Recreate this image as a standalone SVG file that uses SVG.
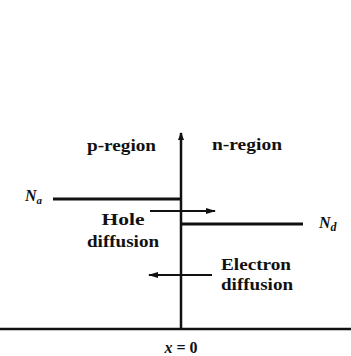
<svg xmlns="http://www.w3.org/2000/svg" width="351" height="356" viewBox="0 0 351 356">
<style>
.t{font-family:"Liberation Serif","Times New Roman",serif;font-weight:bold;font-size:16px;fill:#111}
.i{font-style:italic}
.ln{stroke:#111;fill:none}
</style>
<defs>
<marker id="ah" markerWidth="10" markerHeight="8" refX="9" refY="4" orient="auto" markerUnits="userSpaceOnUse">
<path d="M0,1 L10,4 L0,7 Z" fill="#111"/>
</marker>
<marker id="ax" markerWidth="8" markerHeight="10" refX="7" refY="4" orient="auto" markerUnits="userSpaceOnUse">
<path d="M0,1 L8,4 L0,7 Z" fill="#111"/>
</marker>
</defs>
<rect width="351" height="356" fill="#fff"/>
<g id="connectors">
<line id="baseline" class="ln" x1="0" y1="329" x2="351" y2="329" stroke-width="2.5"/>
<line id="axis" class="ln" x1="181" y1="329" x2="181" y2="133" stroke-width="2.5" marker-end="url(#ax)"/>
<line id="na-line" class="ln" x1="53" y1="199" x2="181" y2="199" stroke-width="3"/>
<line id="nd-line" class="ln" x1="181" y1="224" x2="303" y2="224" stroke-width="3"/>
<line id="hole-arrow" class="ln" x1="150" y1="211" x2="215" y2="211" stroke-width="2" marker-end="url(#ah)"/>
<line id="electron-arrow" class="ln" x1="212" y1="275" x2="149" y2="275" stroke-width="2" marker-end="url(#ah)"/>
</g>
<g id="p-region"><text class="t" x="87" y="151" textLength="69" lengthAdjust="spacingAndGlyphs">p-region</text></g>
<g id="n-region"><text class="t" x="212" y="150" textLength="70" lengthAdjust="spacingAndGlyphs">n-region</text></g>
<g id="Na"><text class="t i" x="25" y="201">N<tspan font-size="11" dy="3">a</tspan></text></g>
<g id="Nd"><text class="t i" x="319" y="228">N<tspan font-size="12" dy="3">d</tspan></text></g>
<g id="hole-diffusion">
<text class="t" x="123" y="225" text-anchor="middle" textLength="43" lengthAdjust="spacingAndGlyphs">Hole</text>
<text class="t" x="123" y="247" text-anchor="middle" textLength="72" lengthAdjust="spacingAndGlyphs">diffusion</text>
</g>
<g id="electron-diffusion">
<text class="t" x="256" y="270" text-anchor="middle" textLength="70" lengthAdjust="spacingAndGlyphs">Electron</text>
<text class="t" x="257" y="290" text-anchor="middle" textLength="72" lengthAdjust="spacingAndGlyphs">diffusion</text>
</g>
<g id="x0"><text class="t" x="181" y="353" text-anchor="middle"><tspan class="i">x</tspan> = 0</text></g>
</svg>
